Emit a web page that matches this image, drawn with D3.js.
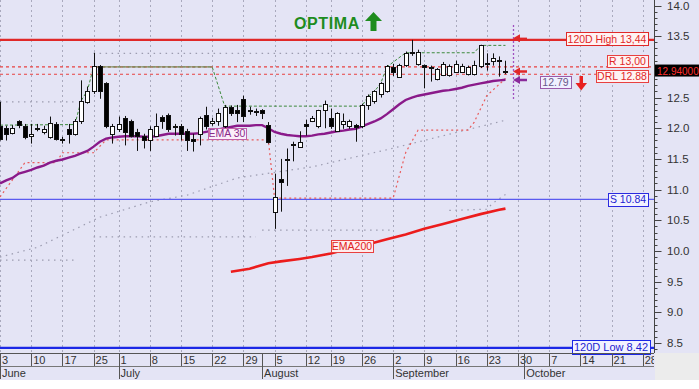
<!DOCTYPE html>
<html><head><meta charset="utf-8">
<script src="https://cdn.jsdelivr.net/npm/d3@7"></script>
<style>
body{margin:0;background:#fff;}
svg{display:block;font-family:"Liberation Sans",Arial,sans-serif;}
</style>
</head><body>
<svg id="c" width="699" height="389"></svg>
<script>
// ---------- DATA ----------
// trading-day candles (index 0 = June 3)
const opens  = [12.03,12.01,11.93,12.11,12.03,11.87,12.00,11.94,11.86,12.07,11.82,11.99,11.91,12.12,12.43,12.60,13.02,12.73,11.91,11.99,12.16,12.11,11.94,11.88,11.80,11.88,12.19,12.21,12.04,12.04,11.96,11.82,11.91,12.22,12.09,12.11,12.04,12.35,12.30,12.48,12.29,12.28,12.30,12.06,10.64,11.18,11.50,11.75,11.70,12.07,12.12,12.03,12.29,12.16,11.96,12.07,12.03,12.05,12.03,12.38,12.45,12.56,12.61,13.00,12.84,13.03,13.24,13.05,13.03,12.98,12.80,12.86,12.86,12.92,12.92,12.89,12.89,13.02,13.06,13.09,13.12,12.92];
const highs  = [12.43,12.04,12.05,12.13,12.07,12.07,12.07,12.04,12.19,12.10,11.86,12.07,12.15,12.78,12.68,13.23,13.03,12.75,12.07,12.19,12.20,12.14,11.99,11.91,12.03,12.24,12.21,12.24,12.07,12.07,11.99,11.91,12.19,12.35,12.17,12.32,12.38,12.37,12.38,12.53,12.35,12.32,12.31,12.10,11.26,11.50,11.67,11.78,11.95,12.14,12.20,12.30,12.45,12.32,12.26,12.24,12.14,12.07,12.40,12.55,12.62,12.75,13.03,13.05,13.05,13.25,13.44,13.28,13.04,13.02,12.98,13.08,13.04,13.10,13.05,13.02,13.10,13.36,13.22,13.22,13.17,13.10];
const lows   = [11.80,11.80,11.90,12.00,11.82,11.75,11.95,11.90,11.83,11.80,11.75,11.75,11.88,12.07,12.40,12.56,12.48,12.00,11.75,11.94,11.72,11.85,11.63,11.67,11.63,11.86,11.99,11.94,11.88,11.80,11.63,11.62,11.72,11.98,12.04,12.04,12.00,12.20,12.10,12.10,12.22,12.20,12.15,11.75,10.36,10.64,11.06,11.46,11.70,11.88,12.10,12.00,12.00,11.99,11.94,11.99,11.99,11.78,12.00,12.30,12.40,12.50,12.58,12.85,12.82,13.00,13.18,13.02,12.65,12.76,12.78,12.85,12.84,12.90,12.90,12.86,12.86,12.98,12.94,13.02,12.84,12.88];
const closes = [11.83,11.91,12.01,12.05,11.86,11.91,12.01,11.99,12.09,11.83,11.81,11.90,12.11,12.45,12.61,13.02,12.61,12.03,12.04,12.07,11.94,11.88,11.88,11.81,11.98,12.03,12.12,11.99,12.03,11.91,11.80,11.79,12.16,12.04,12.12,12.24,12.35,12.24,12.25,12.20,12.28,12.27,12.24,11.78,10.88,11.12,11.48,11.73,11.78,12.03,12.17,12.29,12.40,12.03,12.24,12.12,12.11,12.02,12.38,12.52,12.60,12.73,13.02,12.92,13.03,13.22,13.22,13.25,13.00,13.00,12.97,13.05,13.02,13.05,13.02,13.00,13.03,13.35,13.05,13.14,13.10,12.94];
// EMA 30, one value per candle
const ema30 = [11.10,11.15,11.19,11.26,11.29,11.32,11.36,11.39,11.44,11.47,11.49,11.52,11.55,11.59,11.63,11.70,11.78,11.83,11.85,11.86,11.87,11.87,11.87,11.86,11.86,11.87,11.89,11.91,11.91,11.91,11.91,11.91,11.92,11.94,11.96,11.98,12.00,12.02,12.04,12.04,12.04,12.05,12.05,12.00,11.94,11.91,11.89,11.88,11.87,11.87,11.88,11.90,11.91,11.93,11.95,11.96,11.98,11.99,12.03,12.07,12.11,12.16,12.23,12.31,12.39,12.46,12.50,12.53,12.55,12.57,12.59,12.61,12.62,12.64,12.66,12.69,12.71,12.73,12.75,12.77,12.78,12.79];
// EMA 200 (index, value)
const ema200Idx = [37,40,43,45,48,50,53,56,59,62,65,68,71,74,77,80,81];
const ema200Val = [9.66,9.71,9.80,9.83,9.87,9.90,9.96,10.04,10.11,10.19,10.27,10.36,10.44,10.52,10.60,10.67,10.69];
// trailing stop (red dotted)
const stopIdx = [0,4,9,10,15,17,43,44,63,65,67,75,76,78,81];
const stopVal = [10.88,11.44,11.44,11.60,11.60,11.81,11.81,10.86,10.86,11.60,11.97,11.97,12.10,12.53,12.81];
// resistance trail (green dashed)
const resIdx = [0,12,13,14,15,34,36,58,59,60,61,62,65,76,77,81];
const resVal = [12.05,12.06,12.45,12.61,13.00,13.00,12.36,12.36,12.52,12.60,12.73,13.00,13.23,13.23,13.35,13.35];
// gray dotted channels
const upperA = [[0,12.43],[12,12.43]];
const upperB = [[15,13.22],[62,13.22]];
const lowerA = [[0,9.85],[12,9.85]];
const lowerB = [[15,10.23],[41,10.23]];
const lowerC = [[42,10.34],[63,10.34]];
const lowerD = [[72,10.66],[78,10.68],[79,10.78],[81,10.92]];
const midIdx = [0,6,16,24,30,38,50,62,81];
const midVal = [9.90,10.06,10.55,10.80,10.91,11.19,11.37,11.65,12.13];
// horizontal levels
const high120 = 13.44, resistR = 13.00, drl = 12.88, support = 10.84, low120 = 8.42, lastPrice = 12.94, emaLast = 12.79;
// x axis
const tickIdx = [0,5,10,15,19,24,29,34,39,44,49,53,58,63,68,73,78,83,88,93,98,103];
const tickLabels = ["3","10","17","25","1","8","15","22","29","5","12","19","26","2","9","16","23","30","7","14","21","28"];
const monthIdx = [0,19,42,63,84];
const monthLabels = ["June","July","August","September","October"];
const yTicks = [8.5,9.0,9.5,10.0,10.5,11.0,11.5,12.0,12.5,13.0,13.5,14.0];

// ---------- CHART ----------
const W=699,H=389, PW=654, PH=353;
const svg=d3.select("#c");
const x=d3.scaleLinear().domain([0,104]).range([0,649]);
const y=d3.scaleLinear().domain([8.5,14]).range([343,5.5]);

svg.append("rect").attr("width",W).attr("height",H).attr("fill","#ffffff");
svg.append("rect").attr("width",W).attr("height",380).attr("fill","#e4e4f5");
svg.append("rect").attr("x",PW+1).attr("y",PH).attr("width",W-PW).attr("height",27).attr("fill","#ececec");

const defs=svg.append("defs");
defs.append("clipPath").attr("id","pc").append("rect").attr("width",PW).attr("height",PH);
const g=svg.append("g").attr("clip-path","url(#pc)");

// vertical grid
g.selectAll(".vg").data(tickIdx).join("line")
 .attr("x1",d=>Math.round(x(d))+0.5).attr("x2",d=>Math.round(x(d))+0.5)
 .attr("y1",0).attr("y2",PH).attr("stroke","#a9a9bd").attr("stroke-dasharray","2,3");

const lineGen=d3.line().x(d=>x(d[0])).y(d=>y(d[1]));
function pts(ix,vals){return ix.map((d,i)=>[d,vals[i]]);}

// gray dotted channels
[upperA,upperB,lowerA,lowerB,lowerC,lowerD,pts(midIdx,midVal)].forEach(p=>{
  g.append("path").attr("d",lineGen(p)).attr("fill","none").attr("stroke","#9c9cb0")
   .attr("stroke-width",1.2).attr("stroke-dasharray","1.5,4.5");
});

// horizontal levels
function hline(v,color,w,dash){
  const l=g.append("line").attr("x1",0).attr("x2",PW).attr("y1",y(v)).attr("y2",y(v))
   .attr("stroke",color).attr("stroke-width",w);
  if(dash) l.attr("stroke-dasharray",dash);
}
hline(support,"#5a5af0",1.3);
hline(low120,"#1c28e6",2.2);
hline(high120,"#e02828",2.2);
hline(resistR,"#e84040",1.2,"3,3");
hline(drl,"#e84040",1.2,"3,3");

// stop line
g.append("path").attr("d",lineGen(pts(stopIdx,stopVal))).attr("fill","none")
 .attr("stroke","#ea5a5a").attr("stroke-width",1.2).attr("stroke-dasharray","2,3");
// resistance trail
g.append("path").attr("d",lineGen(pts(resIdx,resVal))).attr("fill","none")
 .attr("stroke","#3d8a3d").attr("stroke-width",1).attr("stroke-dasharray","3,2");
g.append("path").attr("d",lineGen(pts(resIdx.slice(4,6),resVal.slice(4,6)))).attr("fill","none")
 .attr("stroke","#8c8c66").attr("stroke-width",1.3);

// EMA lines
g.append("path").attr("d",lineGen(ema30.map((v,i)=>[i,v]))).attr("fill","none")
 .attr("stroke","#8a1a8a").attr("stroke-width",2.4);
g.append("path").attr("d",lineGen(pts(ema200Idx,ema200Val))).attr("fill","none")
 .attr("stroke","#ec1c1c").attr("stroke-width",2.6);

// candles
const cg=g.append("g");
opens.forEach((o,i)=>{
  const c=closes[i], cx=Math.round(x(i))+0.5;
  cg.append("line").attr("x1",cx).attr("x2",cx).attr("y1",y(highs[i])).attr("y2",y(lows[i]))
    .attr("stroke","#111").attr("stroke-width",1);
  const top=Math.round(y(Math.max(o,c)))+0.5, bot=Math.round(y(Math.min(o,c)))+0.5;
  cg.append("rect").attr("x",cx-2).attr("y",top).attr("width",4).attr("height",Math.max(1,bot-top))
    .attr("fill",c>=o?"#ffffff":"#000000").attr("stroke","#111").attr("stroke-width",1);
});

// purple dotted vertical marker
svg.append("line").attr("x1",513.5).attr("x2",513.5).attr("y1",25).attr("y2",100)
 .attr("stroke","#a050c0").attr("stroke-width",1.3).attr("stroke-dasharray","2,2");

// label boxes
function box(x0,x1,yc,text,stroke,fill,color,h,fs){
  h=h||13; fs=fs||10.5;
  svg.append("rect").attr("x",x0+0.5).attr("y",Math.round(yc-h/2)+0.5).attr("width",x1-x0).attr("height",h)
    .attr("fill",fill).attr("stroke",stroke).attr("stroke-width",1);
  svg.append("text").attr("x",(x0+x1)/2).attr("y",yc+4).attr("text-anchor","middle")
    .attr("font-size",fs).attr("fill",color).text(text);
}
box(566,648,y(high120)-1,"120D High "+d3.format(".2f")(high120).replace(".",","),"#e02828","#fff2f2","#e02828",13,10.5);
box(607,648,y(resistR)-6,"R "+d3.format(".2f")(resistR).replace(".",","),"#e84040","#fff2f2","#e02828",12,10.5);
box(596,648,y(drl)+2,"DRL "+d3.format(".2f")(drl),"#e84040","#fff2f2","#e02828",12,10.5);
box(608,648,y(support),"S "+d3.format(".2f")(support),"#2a2ae0","#f2f2ff","#1c1cd0",13,10.5);
box(572,650,y(low120)-1,"120D Low "+d3.format(".2f")(low120),"#1c28e6","#f2f2ff","#1c1cd0",14,11);
box(540,571,y(emaLast)+2,d3.format(".2f")(emaLast),"#9a5aaa","#f0f0ff","#6a5a8a",12,10.5);
box(208,246,133,"EMA 30","#c060a8","#fbeefa","#8a2a8a",11,10.5);
box(331,373,246,"EMA200","#e84040","#ffecec","#e02020",12,10.5);

// left arrows
function leftArrow(yc,color,w){
  svg.append("line").attr("x1",518).attr("x2",527).attr("y1",yc).attr("y2",yc).attr("stroke",color).attr("stroke-width",w);
  svg.append("path").attr("d",`M513,${yc} L520,${yc-4} L520,${yc+4} Z`).attr("fill",color);
}
leftArrow(y(high120)-1.5,"#e02828",1.5);
leftArrow(71.5,"#e02828",2.5);
leftArrow(80,"#8a2a9a",2.5);

// red down arrow
svg.append("rect").attr("x",579.5).attr("y",76).attr("width",3.5).attr("height",8).attr("fill","#e82020");
svg.append("path").attr("d","M575.5,83 L587,83 L581.2,90.5 Z").attr("fill","#e82020");

// OPTIMA
svg.append("text").attr("x",294).attr("y",29).attr("font-size",16).attr("font-weight","bold")
 .attr("fill","#1e8c1e").attr("letter-spacing",0.6).text("OPTIMA");
svg.append("rect").attr("x",370.5).attr("y",19).attr("width",6).attr("height",12).attr("fill","#1e8c1e");
svg.append("path").attr("d","M365,21 L382,21 L373.5,12 Z").attr("fill","#1e8c1e");

// right axis
const ax=svg.append("g").attr("transform",`translate(${PW},0)`);
ax.append("line").attr("x1",0.5).attr("x2",0.5).attr("y1",0).attr("y2",PH).attr("stroke","#444");
const minor=d3.range(84,141).map(d=>d/10);
ax.selectAll(".mt").data(minor).join("line").attr("x1",0).attr("x2",3.5)
 .attr("y1",d=>Math.round(y(d))+0.5).attr("y2",d=>Math.round(y(d))+0.5).attr("stroke","#444");
ax.selectAll(".Mt").data(yTicks).join("line").attr("x1",0).attr("x2",7.5)
 .attr("y1",d=>Math.round(y(d))+0.5).attr("y2",d=>Math.round(y(d))+0.5).attr("stroke","#444");
// the 13.0 label is covered by the last-price tag in the reference
ax.selectAll(".tl").data(yTicks.filter(d=>Math.abs(y(d)-y(lastPrice))>8)).join("text").attr("x",13).attr("y",d=>y(d)+4)
 .attr("font-size",11.5).attr("fill","#333").text(d=>d3.format(".1f")(d));

// last price tag
svg.append("rect").attr("x",655).attr("y",y(lastPrice)-6).attr("width",44).attr("height",12).attr("fill","#000");
svg.append("text").attr("x",657).attr("y",y(lastPrice)+4).attr("font-size",10).attr("fill","#ff3030").text(d3.format(".5f")(lastPrice));

// x axis
const xa=svg.append("g").attr("clip-path","url(#xc)");
defs.append("clipPath").attr("id","xc").append("rect").attr("x",0).attr("y",PH).attr("width",PW).attr("height",30);
xa.append("line").attr("x1",0).attr("x2",PW).attr("y1",PH+0.5).attr("y2",PH+0.5).attr("stroke","#555");
xa.append("line").attr("x1",0).attr("x2",PW).attr("y1",366.5).attr("y2",366.5).attr("stroke","#777");
xa.selectAll(".xt").data(tickIdx).join("line")
 .attr("x1",d=>Math.round(x(d))+0.5).attr("x2",d=>Math.round(x(d))+0.5)
 .attr("y1",PH).attr("y2",366).attr("stroke","#555");
xa.selectAll(".xl").data(tickIdx).join("text").attr("x",d=>x(d)+2).attr("y",364)
 .attr("font-size",11).attr("fill","#333").text((d,i)=>tickLabels[i]);
xa.selectAll(".ml").data(monthIdx).join("line")
 .attr("x1",d=>Math.round(x(d))+0.5).attr("x2",d=>Math.round(x(d))+0.5)
 .attr("y1",PH).attr("y2",379).attr("stroke","#555");
xa.selectAll(".mtx").data(monthIdx).join("text").attr("x",d=>x(d)+2).attr("y",377)
 .attr("font-size",11).attr("fill","#333").text((d,i)=>monthLabels[i]);
</script>
</body></html>
